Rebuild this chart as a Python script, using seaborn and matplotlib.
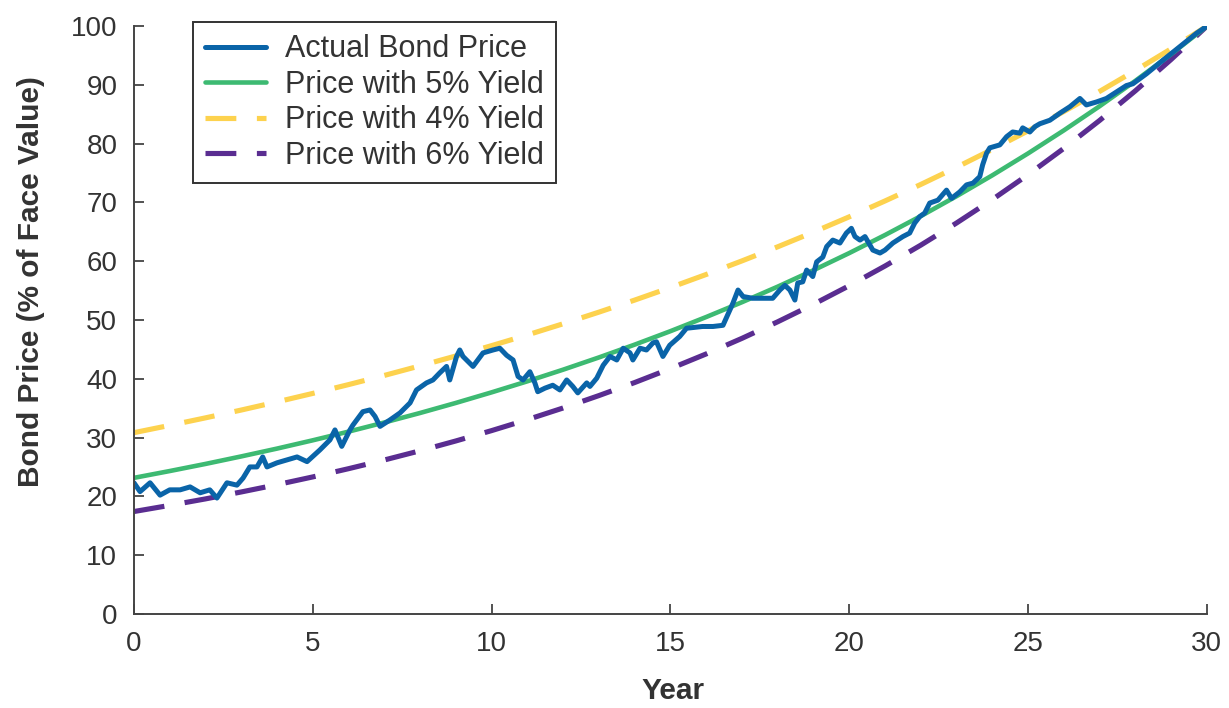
import matplotlib
matplotlib.use("Agg")
import matplotlib.pyplot as plt
import seaborn as sns
import pandas as pd

# ---- data ----
years = list(range(0, 31))
price_5pct = [23.14, 24.30, 25.51, 26.79, 28.12, 29.53, 31.01, 32.56, 34.18, 35.89,
              37.69, 39.57, 41.55, 43.63, 45.81, 48.10, 50.51, 53.03, 55.68, 58.47,
              61.39, 64.46, 67.68, 71.07, 74.62, 78.35, 82.27, 86.38, 90.70, 95.24, 100.0]
price_4pct = [30.83, 32.07, 33.35, 34.68, 36.07, 37.51, 39.01, 40.57, 42.20, 43.88,
              45.64, 47.46, 49.36, 51.34, 53.39, 55.53, 57.75, 60.06, 62.46, 64.96,
              67.56, 70.26, 73.07, 75.99, 79.03, 82.19, 85.48, 88.90, 92.46, 96.15, 100.0]
price_6pct = [17.41, 18.46, 19.56, 20.74, 21.98, 23.30, 24.70, 26.18, 27.75, 29.42,
              31.18, 33.05, 35.03, 37.14, 39.36, 41.73, 44.23, 46.88, 49.70, 52.68,
              55.84, 59.19, 62.74, 66.51, 70.50, 74.73, 79.21, 83.96, 89.00, 94.34, 100.0]

actual_t = [0.0, 0.17, 0.45, 0.73, 1.0, 1.29, 1.57, 1.85, 2.12, 2.32, 2.6, 2.88, 3.05,
            3.24, 3.44, 3.6, 3.72, 4.0, 4.28, 4.56, 4.84, 5.2, 5.48, 5.62, 5.81, 6.04,
            6.12, 6.4, 6.6, 6.74, 6.88, 7.16, 7.44, 7.72, 7.9, 8.18, 8.36, 8.55, 8.74,
            8.83, 9.02, 9.11, 9.2, 9.48, 9.76, 10.04, 10.23, 10.42, 10.6, 10.74, 10.88,
            11.07, 11.21, 11.29, 11.49, 11.71, 11.91, 12.1, 12.27, 12.41, 12.66, 12.75,
            12.94, 13.12, 13.31, 13.5, 13.68, 13.87, 13.95, 14.15, 14.33, 14.51, 14.61,
            14.79, 14.98, 15.26, 15.45, 15.9, 16.19, 16.47, 16.75, 16.89, 17.03, 17.3,
            17.58, 17.86, 18.06, 18.2, 18.34, 18.48, 18.56, 18.7, 18.81, 18.98, 19.09,
            19.26, 19.37, 19.54, 19.74, 19.92, 20.06, 20.16, 20.3, 20.44, 20.66, 20.86,
            21.0, 21.22, 21.5, 21.69, 21.83, 21.97, 22.11, 22.25, 22.48, 22.72, 22.86,
            23.09, 23.28, 23.46, 23.65, 23.73, 23.84, 23.93, 24.21, 24.4, 24.57, 24.77,
            24.85, 25.05, 25.19, 25.33, 25.61, 25.89, 26.17, 26.45, 26.63, 26.91, 27.19,
            27.47, 27.75, 27.93, 28.31, 28.77, 29.24, 29.71, 30.0]
actual_price = [22.3, 20.8, 22.3, 20.2, 21.1, 21.1, 21.6, 20.6, 21.1, 19.7, 22.3, 21.9,
                23.1, 25.0, 25.0, 26.7, 25.0, 25.7, 26.2, 26.7, 25.9, 27.9, 29.6, 31.3,
                28.5, 31.3, 32.1, 34.4, 34.7, 33.6, 31.9, 33.0, 34.2, 35.9, 38.1, 39.3,
                39.8, 41.0, 42.1, 39.8, 43.8, 44.9, 43.8, 42.1, 44.4, 44.9, 45.2, 44.0,
                43.2, 40.4, 39.8, 41.2, 39.3, 37.8, 38.4, 38.9, 38.1, 39.8, 38.7, 37.6,
                39.3, 38.7, 40.1, 42.3, 43.8, 43.2, 45.2, 44.4, 43.2, 45.2, 44.9, 46.1,
                46.3, 43.8, 45.7, 47.2, 48.6, 48.9, 48.9, 49.1, 52.9, 55.1, 54.0, 53.7,
                53.7, 53.7, 55.1, 55.9, 55.1, 53.4, 56.3, 56.5, 58.5, 57.4, 59.9, 60.7,
                62.5, 63.6, 63.1, 64.8, 65.6, 64.2, 63.6, 64.2, 61.9, 61.4, 61.9, 63.1,
                64.2, 64.8, 66.5, 67.6, 68.2, 69.9, 70.4, 72.1, 70.7, 71.8, 73.0, 73.3,
                74.4, 76.4, 78.4, 79.3, 79.8, 81.2, 82.0, 81.8, 82.7, 82.0, 82.9, 83.4,
                84.0, 85.2, 86.3, 87.7, 86.6, 87.1, 87.7, 88.8, 89.9, 90.2, 91.9, 94.2,
                96.5, 98.8, 100.0]

x_ticks = [0, 5, 10, 15, 20, 25, 30]
y_ticks = [0, 10, 20, 30, 40, 50, 60, 70, 80, 90, 100]

# ---- style ----
sns.set_style("ticks")
plt.rcParams["font.family"] = ["Liberation Sans", "DejaVu Sans"]

C_BLUE = "#0a64a8"
C_GREEN = "#3dba72"
C_YELLOW = "#fdd24e"
C_PURPLE = "#5a2d91"

fig = plt.figure(figsize=(12.29, 7.08), dpi=100)
ax = fig.add_axes([0.109, 0.133, 0.873, 0.830])

curves = pd.DataFrame({"Year": years, "p5": price_5pct, "p4": price_4pct, "p6": price_6pct})
actual = pd.DataFrame({"Year": actual_t, "Price": actual_price})

dash = (0, (6, 4))
sns.lineplot(data=curves, x="Year", y="p4", ax=ax, color=C_YELLOW, lw=3.7,
             linestyle=dash, label="Price with 4% Yield")
sns.lineplot(data=curves, x="Year", y="p6", ax=ax, color=C_PURPLE, lw=3.7,
             linestyle=dash, label="Price with 6% Yield")
sns.lineplot(data=curves, x="Year", y="p5", ax=ax, color=C_GREEN, lw=3.3,
             label="Price with 5% Yield")
sns.lineplot(data=actual, x="Year", y="Price", ax=ax, color=C_BLUE, lw=3.6,
             label="Actual Bond Price")

ax.set_xlim(0, 30)
ax.set_ylim(0, 100)
ax.set_xticks(x_ticks)
ax.set_yticks(y_ticks)
ax.tick_params(axis="both", direction="in", length=7, width=1.3, labelsize=20,
               colors="#444444", labelcolor="#333333")
ax.tick_params(axis="x", pad=12)
ax.tick_params(axis="y", pad=12)
for s in ["top", "right"]:
    ax.spines[s].set_visible(False)
for s in ["left", "bottom"]:
    ax.spines[s].set_linewidth(1.4)
    ax.spines[s].set_color("#444444")

ax.set_xlabel("Year", fontsize=21.5, fontweight="bold", color="#333333")
ax.set_ylabel("Bond Price (% of Face Value)", fontsize=21.5, fontweight="bold",
              color="#333333")
ax.xaxis.set_label_coords(0.502, -0.108)
ax.yaxis.set_label_coords(-0.083, 0.565)

handles, labels = ax.get_legend_handles_labels()
order = ["Actual Bond Price", "Price with 5% Yield", "Price with 4% Yield", "Price with 6% Yield"]
hmap = dict(zip(labels, handles))
leg = ax.legend([hmap[l] for l in order], order, loc="upper left",
                bbox_to_anchor=(0.055, 1.007), fontsize=22, frameon=True,
                fancybox=False, framealpha=1, edgecolor="#333333",
                handlelength=2.0, handletextpad=0.6, labelspacing=0.18,
                borderpad=0.4, borderaxespad=0.0, labelcolor="#333333")
leg.get_frame().set_linewidth(1.4)

fig.savefig("out.png", dpi=100)
